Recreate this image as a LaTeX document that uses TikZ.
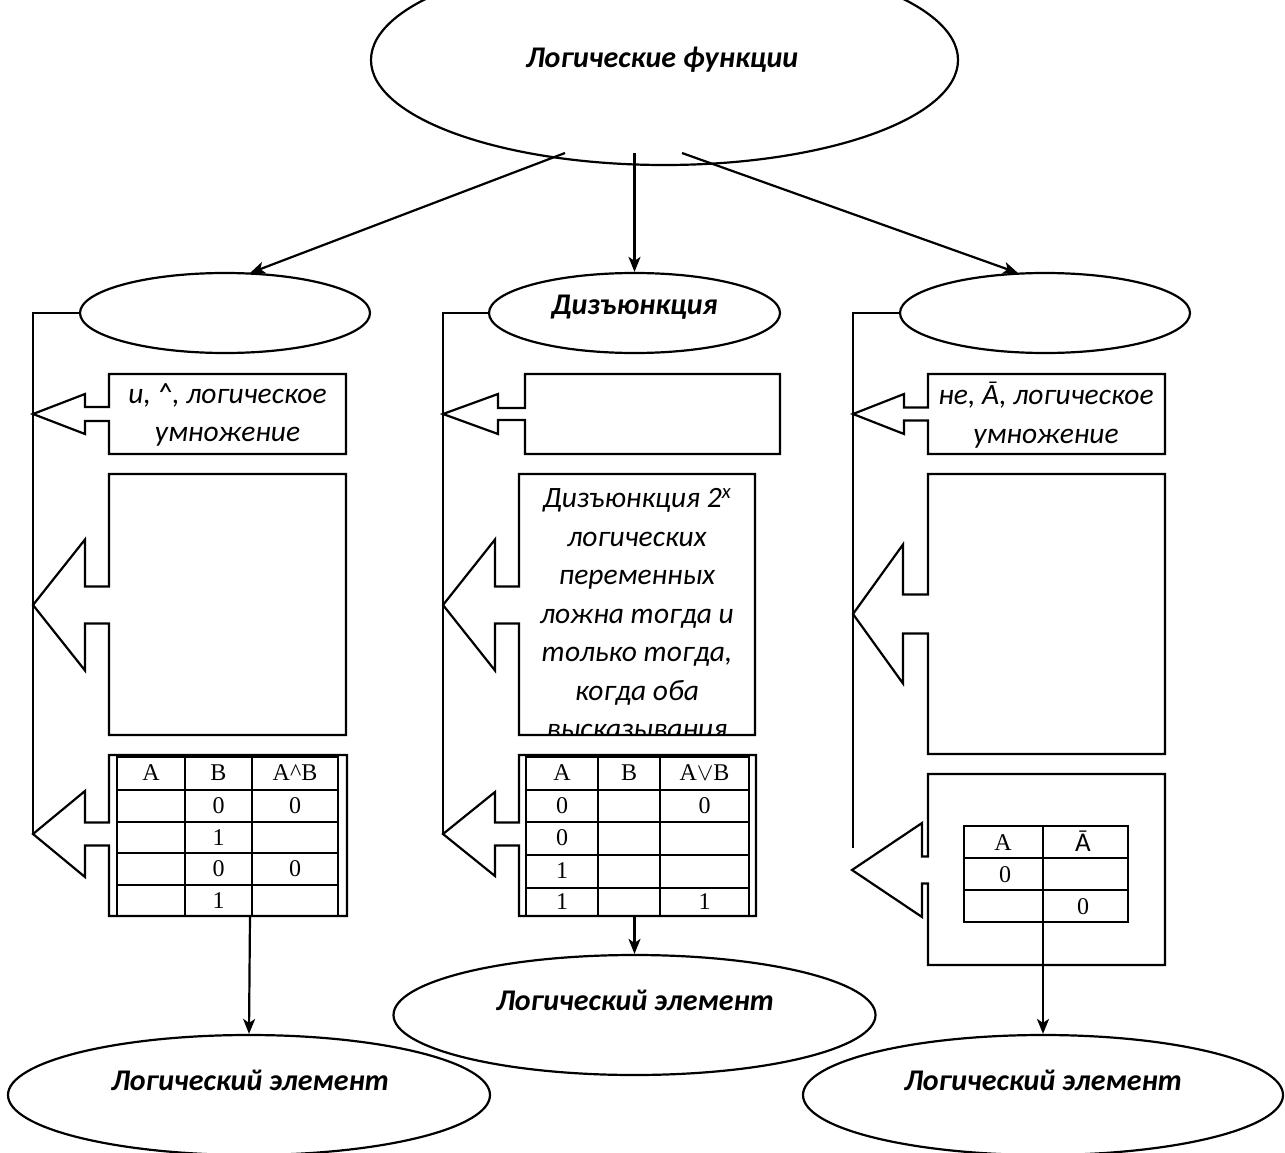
\documentclass[tikz,border=0pt]{standalone}
\usepackage{fontspec}
\setmainfont{Carlito}
\newfontfamily\tnr{Liberation Serif}
\usetikzlibrary{shapes.geometric,arrows.meta}
\tikzset{
  ln/.style={line width=2.2pt, line join=miter},
  ell/.style={ellipse, draw, line width=2.2pt, inner sep=0pt},
  arr/.style={line width=2.2pt, -{Stealth[length=15pt,width=12pt,inset=4pt]}},
  lbl/.style={font=\fontsize{29.5}{38.5}\selectfont\itshape, align=center, inner sep=0pt},
  ttl/.style={font=\fontsize{30}{34}\selectfont\bfseries\itshape, inner sep=0pt},
  tb/.style={font=\tnr\fontsize{24}{26}\selectfont, inner sep=0pt},
  tbs/.style={font=\fontsize{27}{29}\selectfont, inner sep=0pt}
}
% #1 boxL #2 boxR #3 top #4 bottom #5 baseX #6 tipX #7 tipY #8 shaft half #9 head half
\newcommand\mycallout[9]{%
  \draw[ln] (#1,#3) -- (#2,#3) -- (#2,#4) -- (#1,#4) -- (#1,#7+#8) -- (#5,#7+#8)
    -- (#5,#7+#9) -- (#6,#7) -- (#5,#7-#9) -- (#5,#7-#8) -- (#1,#7-#8) -- cycle;}
\begin{document}
\begin{tikzpicture}[x=1pt,y=-1pt]
\useasboundingbox (0,0) rectangle (1285,1153);
\clip (0,0) rectangle (1285,1153);

% ellipses
\node[ell, minimum width=587pt, minimum height=210pt] (top) at (664.5,60) {};
\node[ttl] (toptxt) at (662,60) {Логические функции};
\node[ell, minimum width=290pt, minimum height=80pt] (le) at (225,313) {};
\node[ell, minimum width=291pt, minimum height=80pt] (me) at (634.5,313) {};
\node[ttl] (metxt) at (634.5,307) {Дизъюнкция};
\node[ell, minimum width=290pt, minimum height=80pt] (re) at (1045,313) {};
\node[ell, minimum width=482pt, minimum height=120pt] (bl) at (249,1095) {};
\node[ttl] (bltxt) at (250,1080) {Логический элемент};
\node[ell, minimum width=482pt, minimum height=120pt] (bm) at (634.5,1015) {};
\node[ttl] (bmtxt) at (635,1000) {Логический элемент};
\node[ell, minimum width=480pt, minimum height=120pt] (br) at (1043,1095) {};
\node[ttl] (brtxt) at (1043,1080) {Логический элемент};

% arrows from top
\coordinate (s1) at (565,153);
\coordinate (s2) at (634.5,153);
\coordinate (s3) at (682,153);
\coordinate (e1) at (250,273);
\coordinate (e3) at (1018,273);
\draw[arr] (s1) -- (e1);
\draw[arr] (s2) -- (me.north);
\draw[arr] (s3) -- (e3);

% brackets
\coordinate (lbend) at (33,313);
\coordinate (lend) at (33,835);
\draw[ln] (le.west) -- (lbend) -- (lend);
\coordinate (mbend) at (443,313);
\coordinate (mend) at (443,835);
\draw[ln] (me.west) -- (mbend) -- (mend);
\coordinate (rbend) at (853,313);
\coordinate (rend) at (853,848);
\draw[ln] (re.west) -- (rbend) -- (rend);

% left column
\mycallout{109}{346}{374}{454}{85}{33}{414}{7}{20}
\node[lbl] (l1txt) at (227.5,415) {и, \textasciicircum, логическое\\умножение};
\mycallout{109}{346}{474}{735}{85}{33}{605}{18.5}{65.5}
\mycallout{109}{347}{755}{916}{85}{33}{834}{11.5}{43}
\draw[ln] (117,755) -- (117,916) (338,755) -- (338,916);
\draw[ln] (117,757) -- (338,757);
\foreach \yy in {790,822,853,885} \draw[ln] (117,\yy) -- (338,\yy);
\draw[ln] (185,757) -- (185,916) (252,757) -- (252,916);
\node[tb] (la0) at (151,773) {A};
\node[tb] (lb0) at (218.5,773) {B};
\node[tb] (lc0) at (295,773) {A\textasciicircum B};
\node[tb] (lb1) at (218.5,806) {0};
\node[tb] (lc1) at (295,806) {0};
\node[tb] (lb2) at (218.5,838) {1};
\node[tb] (lb3) at (218.5,869) {0};
\node[tb] (lc3) at (295,869) {0};
\node[tb] (lb4) at (218.5,901) {1};
\coordinate (lt) at (250,916);
\draw[arr] (lt) -- (bl.north);

% middle column
\mycallout{525}{780}{374}{454}{498}{443}{414}{6}{20}
\mycallout{519}{755}{474}{735}{495}{443}{605}{18.5}{65.5}
\begin{scope}
\clip (519,474) rectangle (755,735);
\node[lbl] (m2txt) at (637,614) {Дизъюнкция 2\textsuperscript{x}\\логических\\переменных\\ложна тогда и\\только тогда,\\когда оба\\высказывания};
\end{scope}
\mycallout{519}{756}{755}{916}{495}{443}{834}{11.5}{42}
\draw[ln] (526,755) -- (526,916) (749,755) -- (749,916);
\draw[ln] (526,757) -- (749,757);
\foreach \yy in {790,822,855,888} \draw[ln] (526,\yy) -- (749,\yy);
\draw[ln] (598,757) -- (598,916) (660,757) -- (660,916);
\node[tb] (ma0) at (562,773) {A};
\node[tb] (mb0) at (629,773) {B};
\node[tb] (mc0) at (704.5,773) {A$\vee$B};
\node[tb] (ma1) at (562,806) {0};
\node[tb] (mc1) at (704.5,806) {0};
\node[tb] (ma2) at (562,838) {0};
\node[tb] (ma3) at (562,871) {1};
\node[tb] (ma4) at (562,902) {1};
\node[tb] (mc4) at (704.5,902) {1};
\coordinate (mt) at (634.5,916);
\draw[arr] (mt) -- (bm.north);

% right column
\mycallout{928}{1165}{374}{454}{904}{853}{414}{6.5}{20}
\node[lbl] (r1txt) at (1046,415) {не, Ā, логическое\\умножение};
\mycallout{928}{1165}{474}{754}{903}{853}{614}{19.5}{69.5}
\mycallout{928}{1165}{774}{965}{922}{852}{870}{13.5}{47}
\draw[ln] (964,826) rectangle (1128,922);
\draw[ln] (964,858) -- (1128,858) (964,890) -- (1128,890);
\draw[ln] (1043,826) -- (1043,922);
\node[tb] (ra0) at (1003,843) {A};
\node[tbs] (rb0) at (1083,841) {Ā};
\node[tb] (ra1) at (1005,875) {0};
\node[tb] (rb2) at (1083,907) {0};
\coordinate (rt) at (1043,913);
\draw[arr] (rt) -- (br.north);
\end{tikzpicture}
\end{document}
